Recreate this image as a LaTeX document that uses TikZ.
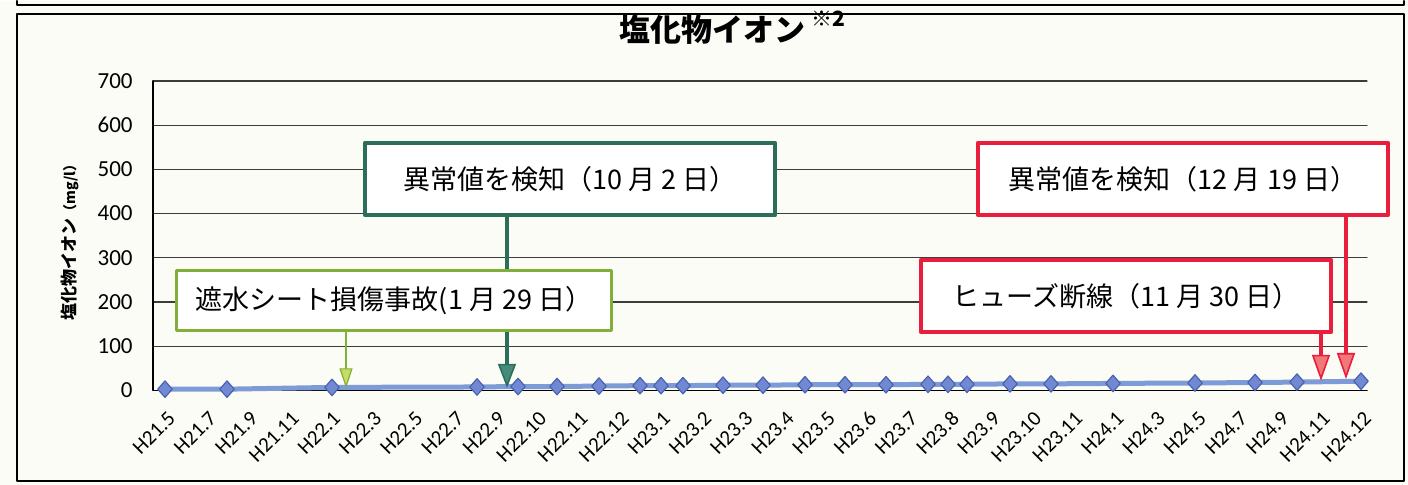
\documentclass[tikz,border=0pt]{standalone}
\usepackage{fontspec}
\setmainfont{Carlito}
\newfontfamily\jpfont{Noto Sans CJK JP}
\usetikzlibrary{arrows.meta,shapes.geometric}
\definecolor{paper}{RGB}{252,252,247}
\definecolor{gridgray}{RGB}{60,60,60}
\definecolor{serline}{RGB}{125,155,215}
\definecolor{serfill}{RGB}{112,137,210}
\definecolor{serdraw}{RGB}{75,98,175}
\definecolor{tealbox}{RGB}{45,110,90}
\definecolor{tealhead}{RGB}{70,140,125}
\definecolor{limebox}{RGB}{130,175,60}
\definecolor{limehead}{RGB}{200,220,100}
\definecolor{redbox}{RGB}{232,30,60}
\definecolor{pinkhead}{RGB}{240,120,120}
\begin{document}
\begin{tikzpicture}[x=0.5pt,y=-0.5pt,line join=round,line cap=round,>=stealth]
    \tikzset{ylab/.style={font=\fontsize{11.5}{13}\selectfont,anchor=east,inner sep=0pt},
        xlab/.style={font=\fontsize{10.5}{12}\selectfont,anchor=east,rotate=45,inner sep=0pt},
        dmd/.style={diamond,draw=serdraw,fill=serfill,line width=0.6pt,inner sep=0pt,minimum width=7.5pt,minimum height=8.5pt},
        notebox/.style={fill=white,line width=2.2pt,minimum width=205pt,minimum height=36pt,inner sep=0pt,font=\jpfont\fontsize{13.5}{15}\selectfont},
        tealarrow/.style={draw=tealbox,line width=2pt,-{Triangle[length=12pt,width=9pt,line width=0.8pt,fill=tealhead]}},
        limearrow/.style={draw=limebox,line width=1pt,-{Triangle[length=10pt,width=6.5pt,line width=0.6pt,fill=limehead]}},
        redarrow/.style={draw=redbox,line width=1.6pt,-{Triangle[length=13pt,width=9pt,line width=0.8pt,fill=pinkhead]}}}
    \fill[paper] (0,0) rectangle (1408,484);
    \draw[line width=1pt] (17,0)--(17,4)--(1404,4)--(1404,0);
    \draw[line width=1pt] (17,13) rectangle (1404,480);
    % title
    \node[font=\jpfont\bfseries\fontsize{15.5}{17}\selectfont,inner sep=0pt] (ttl) at (712,29) {塩化物イオン};
    \node[font=\jpfont\bfseries\fontsize{10.5}{12}\selectfont,anchor=north west,inner sep=0pt] (ttlnote) at ([xshift=3pt,yshift=2pt]ttl.north east) {※2};
    \node[rotate=90,font=\jpfont\bfseries\fontsize{8.5}{10}\selectfont] (ytitle) at (70,238) {塩化物イオン{\fontsize{7}{8}\selectfont（mg/l）}};
    \begin{scope}[shift={(0,389.5)},y=0.2211pt]
        \foreach \v in {100,200,...,700}
            \draw[gridgray,line width=0.6pt] (153,\v)--(1367,\v);
        \draw[line width=0.8pt] (153,700)--(153,0)--(1367,0);
        \foreach \v in {0,100,...,700}
            \node[ylab] (ytick\v) at (133,\v) {\v};
        \draw[serline,line width=2.5pt] plot coordinates {(165,3) (227,3) (332,7) (477,8) (518,9) (557,9) (599,10) (640,11) (661,11) (683,11) (723,12) (763,12) (805,13) (845,13) (886,13) (928,14) (948,14) (967,14) (1010,15) (1051,15) (1113,16) (1195,17) (1255,18) (1297,19) (1361,21)};
        \foreach \x/\v [count=\i] in {165/3,227/3,332/7,477/8,518/9,557/9,599/10,640/11,661/11,683/11,723/12,763/12,805/13,845/13,886/13,928/14,948/14,967/14,1010/15,1051/15,1113/16,1195/17,1255/18,1297/19,1361/21}
            \node[dmd] (pt\i) at (\x,\v) {};
        \coordinate (tipsheet) at (346,5);
        \coordinate (tipoct) at (507,6);
        \coordinate (tipfuse) at (1321,22);
        \coordinate (tipdec) at (1346,26);
    \end{scope}
    \foreach \t [count=\i from 0] in {H21.5,H21.7,H21.9,H21.11,H22.1,H22.3,H22.5,H22.7,H22.9,H22.10,H22.11,H22.12,H23.1,H23.2,H23.3,H23.4,H23.5,H23.6,H23.7,H23.8,H23.9,H23.10,H23.11,H24.1,H24.3,H24.5,H24.7,H24.9,H24.11,H24.12}
        \node[xlab] (xtick\i) at ({172+41.24*\i},414) {\t};
    % notes and arrows
    \node[notebox,draw=tealbox] (detoct) at (570,178) {異常値を検知（10 月 2 日）};
    \node[notebox,draw=redbox] (detdec) at (1183,178) {異常値を検知（12 月 19 日）};
    \node[notebox,draw=redbox] (fuse) at (1126,295) {ヒューズ断線（11 月 30 日）};
    \draw[tealarrow] (detoct.south -| tipoct)--(tipoct);
    \node[notebox,draw=limebox,line width=1.5pt,minimum width=217.5pt,minimum height=30pt] (sheet) at (394,300) {遮水シート損傷事故(1 月 29 日）};
    \draw[limearrow] (sheet.south -| tipsheet)--(tipsheet);
    \draw[redarrow] (fuse.south -| tipfuse)--(tipfuse);
    \draw[redarrow] (detdec.south -| tipdec)--(tipdec);
\end{tikzpicture}
\end{document}
